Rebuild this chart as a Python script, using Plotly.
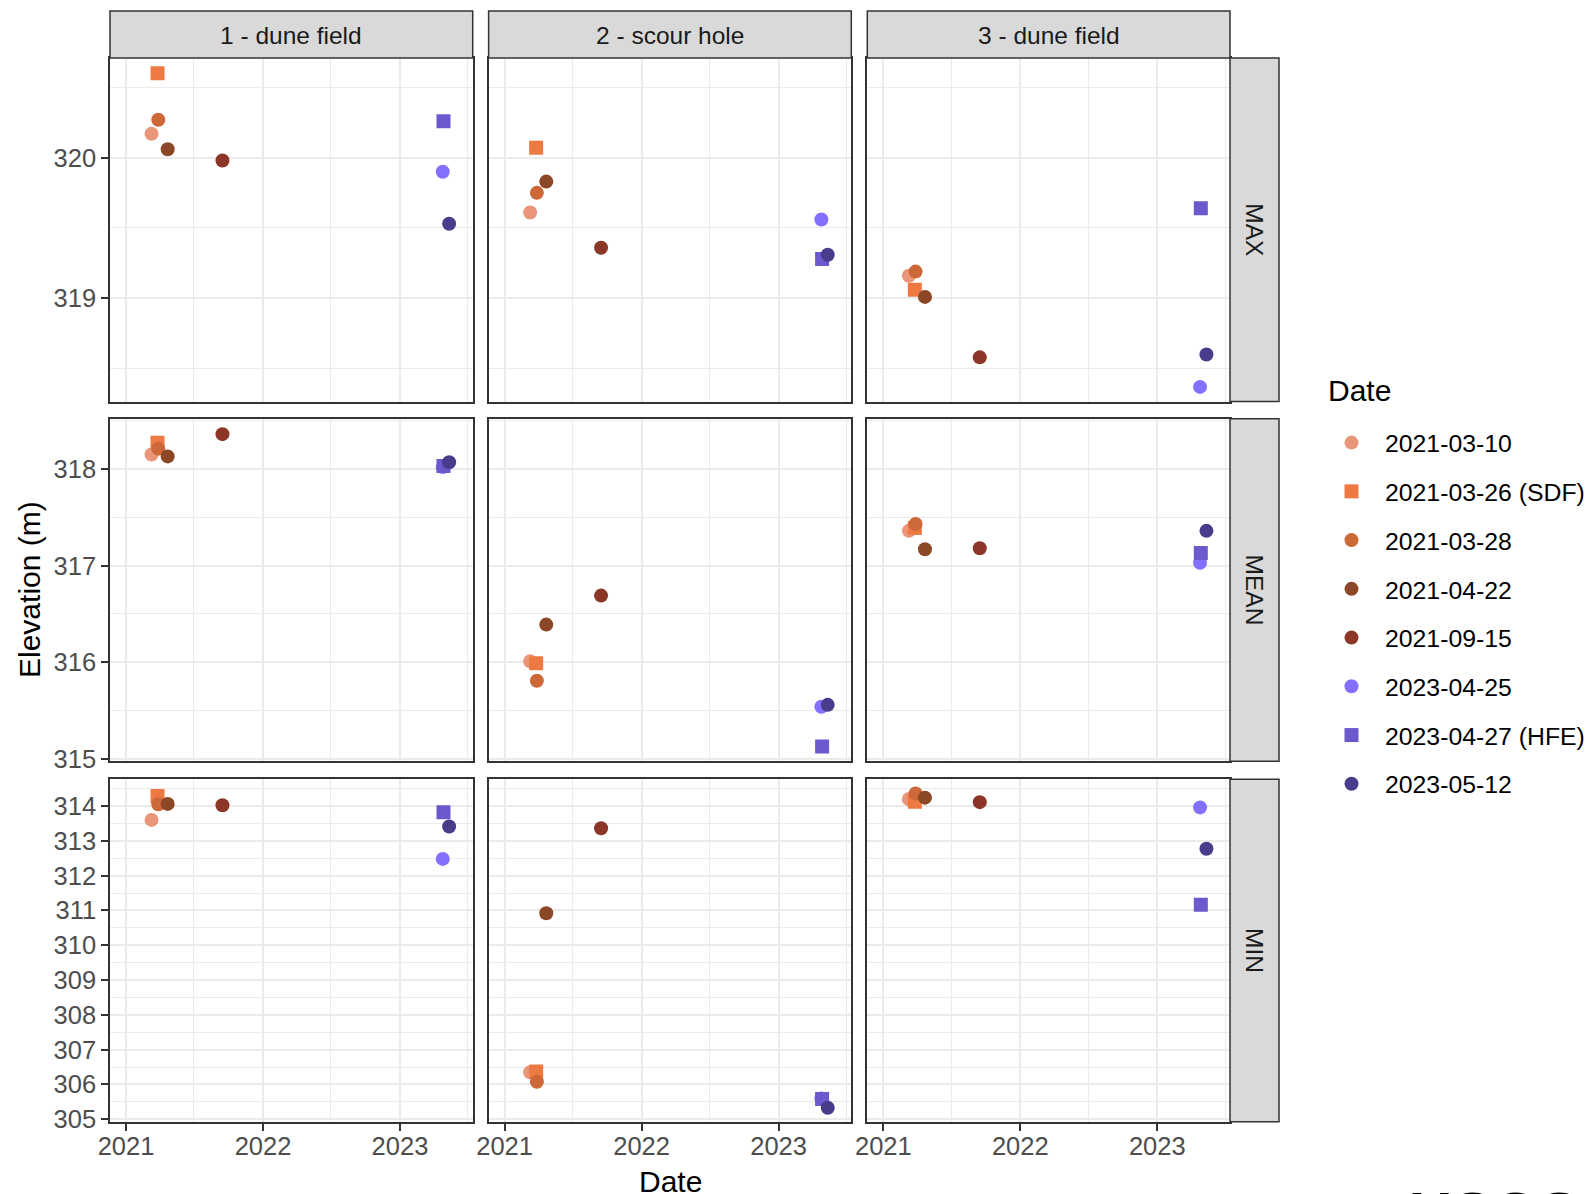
import plotly.graph_objects as go

# page body has an 8 px default margin: the figure is sized to fit the
# 1595x1194 window and all positions are given in window pixels.
PAGE_MARGIN = 8
WIN_W, WIN_H = 1595, 1194
W, H = WIN_W - PAGE_MARGIN, WIN_H - PAGE_MARGIN

# ---------------- data ----------------
dates = ["2021-03-10", "2021-03-26", "2021-03-28", "2021-04-22",
         "2021-09-15", "2023-04-25", "2023-04-27", "2023-05-12"]
labels = ["2021-03-10", "2021-03-26 (SDF)", "2021-03-28", "2021-04-22",
          "2021-09-15", "2023-04-25", "2023-04-27 (HFE)", "2023-05-12"]
colors = ["#E9967A", "#EE7942", "#CD6839", "#8B4726",
          "#8B3626", "#8470FF", "#6A5ACD", "#483D8B"]
symbols = ["circle", "square", "circle", "circle",
           "circle", "circle", "square", "circle"]

sites = ["1 - dune field", "2 - scour hole", "3 - dune field"]
stats = ["MAX", "MEAN", "MIN"]

# elevation (m), in the order of `dates`
max_site1 = [320.17, 320.60, 320.27, 320.06, 319.98, 319.90, 320.26, 319.53]
max_site2 = [319.61, 320.07, 319.75, 319.83, 319.36, 319.56, 319.28, 319.31]
max_site3 = [319.16, 319.06, 319.19, 319.01, 318.58, 318.37, 319.64, 318.60]
mean_site1 = [318.15, 318.27, 318.21, 318.13, 318.36, 318.02, 318.03, 318.07]
mean_site2 = [316.01, 315.99, 315.81, 316.39, 316.69, 315.54, 315.13, 315.56]
mean_site3 = [317.36, 317.39, 317.43, 317.17, 317.18, 317.03, 317.13, 317.36]
min_site1 = [313.60, 314.29, 314.05, 314.06, 314.02, 312.48, 313.82, 313.41]
min_site2 = [306.35, 306.37, 306.08, 310.92, 313.36, 305.60, 305.58, 305.33]
min_site3 = [314.20, 314.12, 314.36, 314.24, 314.11, 313.96, 311.16, 312.77]

values = [
    [max_site1, max_site2, max_site3],
    [mean_site1, mean_site2, mean_site3],
    [min_site1, min_site2, min_site3],
]

# ---------------- layout geometry (window pixels) ----------------
col_px = [(110, 472.7), (488.6, 851.3), (867.3, 1230.0)]
row_px = [(58, 401.5), (418.8, 761.3), (779.3, 1121.8)]
y_ranges = [(318.266, 320.709), (314.976, 318.519), (304.928, 314.767)]
x_range = ["2020-11-19 08:00", "2023-07-13 19:00"]


def fx(px):
    return (px - PAGE_MARGIN) / W


def fy(py):
    return 1 - (py - PAGE_MARGIN) / H


fig = go.Figure()

GRID = "#EBEBEB"
BORDER = "#333333"
TICKC = "#4D4D4D"
FONT = "Liberation Sans, Arial, sans-serif"
TICK_SIZE = 25.5
LEGEND_SIZE = 24.8

layout = dict(
    width=W, height=H,
    margin=dict(l=0, r=0, t=0, b=0, autoexpand=False),
    paper_bgcolor="white", plot_bgcolor="white",
    font=dict(family=FONT, size=24, color="black"),
    showlegend=True,
)

for r in range(3):
    for c in range(3):
        idx = r * 3 + c + 1
        xn = "xaxis" if idx == 1 else f"xaxis{idx}"
        yn = "yaxis" if idx == 1 else f"yaxis{idx}"
        xr = "x" if idx == 1 else f"x{idx}"
        yr = "y" if idx == 1 else f"y{idx}"
        layout[xn] = dict(
            domain=[fx(col_px[c][0]), fx(col_px[c][1])],
            anchor=yr, type="date", range=x_range,
            tick0="2021-01-01", dtick="M12", tickformat="%Y",
            showgrid=True, gridcolor=GRID, gridwidth=2,
            minor=dict(tick0="2021-01-01", dtick="M6", showgrid=True,
                       gridcolor=GRID, gridwidth=1, ticks=""),
            showline=True, mirror=True, linecolor=BORDER, linewidth=1.5,
            ticks="outside" if r == 2 else "", ticklen=7, tickwidth=1.5,
            tickcolor=BORDER, ticklabelstandoff=-6,
            showticklabels=(r == 2),
            tickfont=dict(size=TICK_SIZE, color=TICKC, family=FONT),
            zeroline=False, fixedrange=True, automargin=False,
        )
        layout[yn] = dict(
            domain=[fy(row_px[r][1]), fy(row_px[r][0])],
            anchor=xr, range=list(y_ranges[r]),
            dtick=1, tick0=0,
            showgrid=True, gridcolor=GRID, gridwidth=2,
            minor=dict(dtick=0.5, tick0=0, showgrid=True,
                       gridcolor=GRID, gridwidth=1, ticks=""),
            showline=True, mirror=True, linecolor=BORDER, linewidth=1.5,
            ticks="outside" if c == 0 else "", ticklen=7, tickwidth=1.5,
            tickcolor=BORDER,
            showticklabels=(c == 0),
            tickfont=dict(size=TICK_SIZE, color=TICKC, family=FONT),
            zeroline=False, fixedrange=True, automargin=False,
        )
        vals = values[r][c]
        for k in range(len(dates)):
            fig.add_trace(go.Scatter(
                x=[dates[k]], y=[vals[k]],
                mode="markers",
                marker=dict(color=colors[k], symbol=symbols[k], size=14,
                            line=dict(width=0)),
                name=labels[k], legendgroup=labels[k],
                showlegend=(idx == 1),
                xaxis=xr, yaxis=yr,
                hovertemplate="%{x|%Y-%m-%d}: %{y:.2f} m<extra>" + labels[k] + "</extra>",
            ))

shapes = []
annotations = []
STRIP_FILL = "#D9D9D9"

# top strips
for c in range(3):
    shapes.append(dict(type="rect", xref="paper", yref="paper",
                       x0=fx(col_px[c][0]), x1=fx(col_px[c][1]),
                       y0=fy(58), y1=fy(11),
                       fillcolor=STRIP_FILL, line=dict(color=BORDER, width=1.5),
                       layer="above"))
    annotations.append(dict(text=sites[c], xref="paper", yref="paper",
                            x=fx((col_px[c][0] + col_px[c][1]) / 2),
                            y=fy(35), xanchor="center", yanchor="middle",
                            showarrow=False,
                            font=dict(size=24.5, color="#1A1A1A", family=FONT)))
# right strips
for r in range(3):
    shapes.append(dict(type="rect", xref="paper", yref="paper",
                       x0=fx(1230.0), x1=fx(1279.0),
                       y0=fy(row_px[r][1]), y1=fy(row_px[r][0]),
                       fillcolor=STRIP_FILL, line=dict(color=BORDER, width=1.5),
                       layer="above"))
    annotations.append(dict(text=stats[r], xref="paper", yref="paper",
                            x=fx(1254.5),
                            y=fy((row_px[r][0] + row_px[r][1]) / 2),
                            xanchor="center", yanchor="middle",
                            textangle=90, showarrow=False,
                            font=dict(size=24.5, color="#1A1A1A", family=FONT)))

# axis titles
annotations.append(dict(text="Elevation (m)", xref="paper", yref="paper",
                        x=fx(29), y=fy(590), xanchor="center", yanchor="middle",
                        textangle=-90, showarrow=False,
                        font=dict(size=30, color="black", family=FONT)))
annotations.append(dict(text="Date", xref="paper", yref="paper",
                        x=fx(670), y=fy(1181), xanchor="center", yanchor="middle",
                        showarrow=False,
                        font=dict(size=30, color="black", family=FONT)))
# legend title
annotations.append(dict(text="Date", xref="paper", yref="paper",
                        x=fx(1326), y=fy(390), xanchor="left", yanchor="middle",
                        showarrow=False,
                        font=dict(size=30, color="black", family=FONT)))
# logo text (cut off at the bottom edge)
annotations.append(dict(text="<b>\u2261USGS</b>", xref="paper", yref="paper",
                        x=fx(1372), y=fy(1178), xanchor="left", yanchor="top",
                        showarrow=False,
                        font=dict(size=60, color="black", family=FONT)))

layout["shapes"] = shapes
layout["annotations"] = annotations
layout["legend"] = dict(
    x=fx(1318), y=fy(420), xanchor="left", yanchor="top",
    font=dict(size=LEGEND_SIZE, color="black", family=FONT),
    tracegroupgap=13.5, bgcolor="rgba(0,0,0,0)", itemsizing="trace",
    itemwidth=57,
)

fig.update_layout(**layout)
fig.write_html("out.html")
